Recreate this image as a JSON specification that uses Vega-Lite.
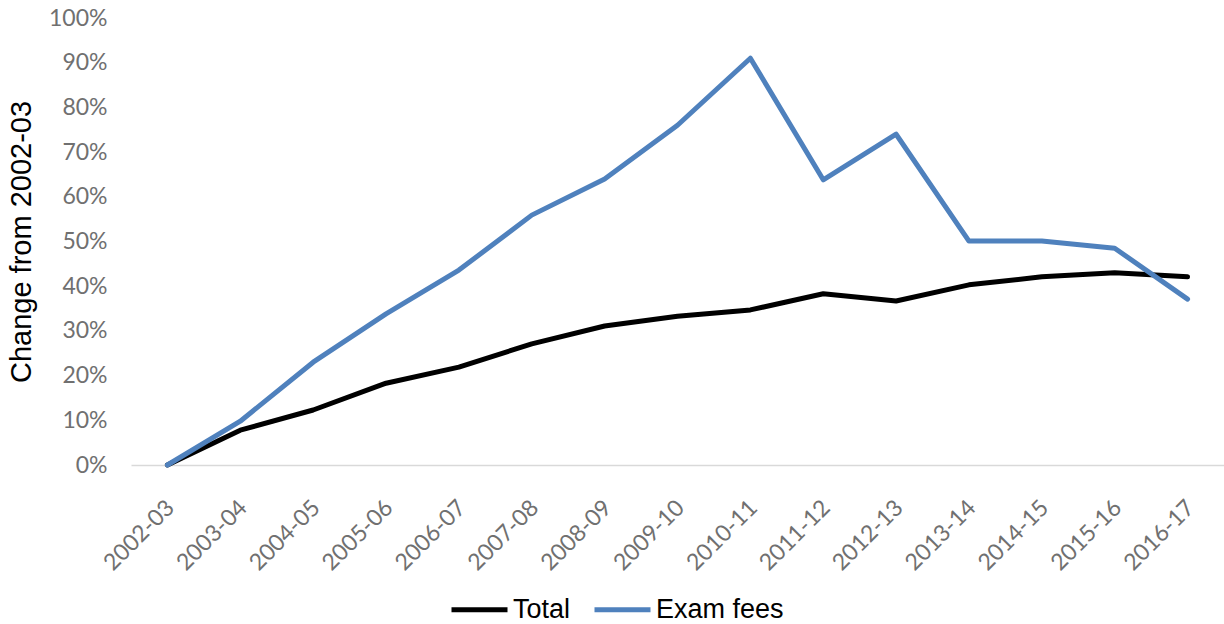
{
  "$schema": "https://vega.github.io/schema/vega-lite/v6.json",
  "width": 1093,
  "height": 447,
  "autosize": {"type": "none"},
  "padding": {"left": 131, "top": 18, "right": 0, "bottom": 159},
  "background": "white",
  "config": {"view": {"stroke": null}, "font": "Liberation Sans"},
  "data": {
    "values": [
      {"year": "2002-03", "series": "Total", "value": 0.0},
      {"year": "2003-04", "series": "Total", "value": 0.078},
      {"year": "2004-05", "series": "Total", "value": 0.123},
      {"year": "2005-06", "series": "Total", "value": 0.183},
      {"year": "2006-07", "series": "Total", "value": 0.219},
      {"year": "2007-08", "series": "Total", "value": 0.271},
      {"year": "2008-09", "series": "Total", "value": 0.311},
      {"year": "2009-10", "series": "Total", "value": 0.333},
      {"year": "2010-11", "series": "Total", "value": 0.347},
      {"year": "2011-12", "series": "Total", "value": 0.383},
      {"year": "2012-13", "series": "Total", "value": 0.367},
      {"year": "2013-14", "series": "Total", "value": 0.403},
      {"year": "2014-15", "series": "Total", "value": 0.421},
      {"year": "2015-16", "series": "Total", "value": 0.430},
      {"year": "2016-17", "series": "Total", "value": 0.421},
      {"year": "2002-03", "series": "Exam fees", "value": 0.0},
      {"year": "2003-04", "series": "Exam fees", "value": 0.098},
      {"year": "2004-05", "series": "Exam fees", "value": 0.230},
      {"year": "2005-06", "series": "Exam fees", "value": 0.338},
      {"year": "2006-07", "series": "Exam fees", "value": 0.436},
      {"year": "2007-08", "series": "Exam fees", "value": 0.559},
      {"year": "2008-09", "series": "Exam fees", "value": 0.640},
      {"year": "2009-10", "series": "Exam fees", "value": 0.760},
      {"year": "2010-11", "series": "Exam fees", "value": 0.910},
      {"year": "2011-12", "series": "Exam fees", "value": 0.638},
      {"year": "2012-13", "series": "Exam fees", "value": 0.740},
      {"year": "2013-14", "series": "Exam fees", "value": 0.501},
      {"year": "2014-15", "series": "Exam fees", "value": 0.501},
      {"year": "2015-16", "series": "Exam fees", "value": 0.485},
      {"year": "2016-17", "series": "Exam fees", "value": 0.371}
    ]
  },
  "encoding": {
    "x": {
      "field": "year",
      "type": "ordinal",
      "sort": null,
      "scale": {"type": "point", "padding": 0.5},
      "axis": {
        "title": null,
        "labelAngle": -45,
        "labelAlign": "right",
        "labelBaseline": "top",
        "labelPadding": 31,
        "labelOffset": -5,
        "labelFont": "Lato",
        "labelFontSize": 23,
        "labelColor": "#707070",
        "ticks": false,
        "domainColor": "#d9d9d9",
        "domainWidth": 1.5,
        "grid": false
      }
    },
    "y": {
      "field": "value",
      "type": "quantitative",
      "scale": {"domain": [0, 1], "nice": false},
      "axis": {
        "values": [0, 0.1, 0.2, 0.3, 0.4, 0.5, 0.6, 0.7, 0.8, 0.9, 1.0],
        "format": ".0%",
        "grid": false,
        "domain": false,
        "ticks": false,
        "labelPadding": 24,
        "labelFont": "Lato",
        "labelFontSize": 23,
        "labelColor": "#707070",
        "title": "Change from 2002-03",
        "titleFont": "Liberation Sans",
        "titleFontSize": 29,
        "titleFontWeight": "normal",
        "titleColor": "#000000",
        "titlePadding": 12
      }
    },
    "color": {
      "field": "series",
      "type": "nominal",
      "scale": {"domain": ["Total", "Exam fees"], "range": ["#000000", "#4f81bd"]},
      "legend": {
        "orient": "none",
        "legendX": 318,
        "legendY": 561,
        "direction": "horizontal",
        "title": null,
        "symbolType": "stroke",
        "symbolSize": 3136,
        "symbolStrokeWidth": 5,
        "labelFont": "Liberation Sans",
        "labelFontSize": 27,
        "labelColor": "#000000",
        "labelOffset": 3,
        "columnPadding": 13
      }
    }
  },
  "layer": [
    {
      "transform": [{"filter": "datum.series === 'Total'"}],
      "mark": {"type": "line", "strokeWidth": 5, "strokeCap": "round", "strokeJoin": "round"}
    },
    {
      "transform": [{"filter": "datum.series === 'Exam fees'"}],
      "mark": {"type": "line", "strokeWidth": 5, "strokeCap": "round", "strokeJoin": "round"}
    }
  ]
}
